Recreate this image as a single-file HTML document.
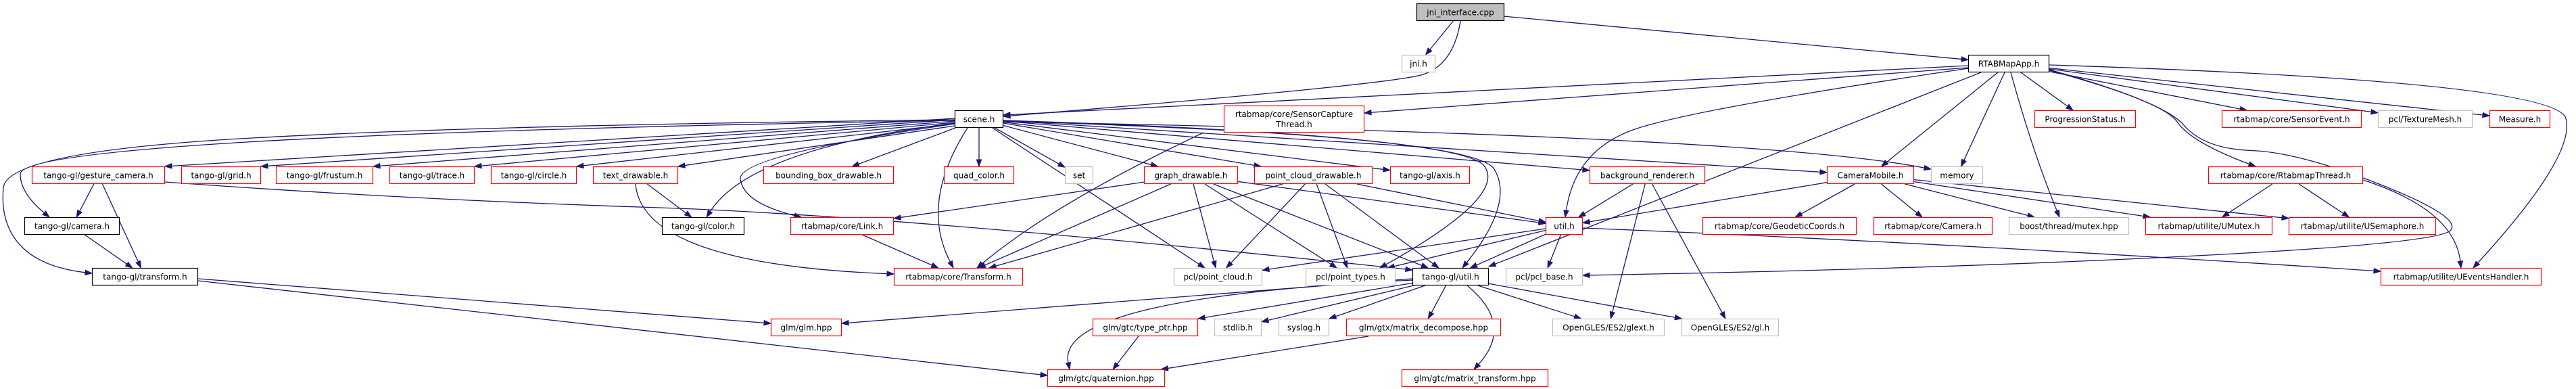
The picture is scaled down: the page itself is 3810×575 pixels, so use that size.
<!DOCTYPE html>
<html><head><meta charset="utf-8">
<style>
html,body{margin:0;padding:0;background:#fff;}
svg{display:block;}
text{font-family:"DejaVu Sans","Liberation Sans",sans-serif;font-size:12px;fill:#000;}
</style></head>
<body>
<svg id="g" xmlns="http://www.w3.org/2000/svg" width="3810" height="575" viewBox="0 0 3810 575">
<rect width="3810" height="575" fill="#fff"/>
<g id="edges" fill="none" stroke="#191970" stroke-width="1.3"></g>
<g id="heads" fill="#191970" stroke="#191970"></g>
<g id="nodes"></g>
</svg>
<script>
var R={A:5,B:81,C:163,D:246,E:321,F:396,G:471,H:546};
var N={};
function n(id,label,x1,x2,row,st,y1,y2){var a=y1!==undefined?y1:R[row];N[id]={l:label,x1:x1,x2:x2,y1:a,y2:y2!==undefined?y2:a+26,s:st};}
n('jni','jni_interface.cpp',2095,2225,'A','k');
n('jnih','jni.h',2073,2123,'B','g');
n('app','RTABMapApp.h',2911,3031,'B','b');
n('scene','scene.h',1412,1484,'C','b');
n('sct',['rtabmap/core/SensorCapture','Thread.h'],1810,2018,'C','r',156,196);
n('prog','ProgressionStatus.h',3009,3159,'C','r');
n('sev','rtabmap/core/SensorEvent.h',3286,3493,'C','r');
n('tmesh','pcl/TextureMesh.h',3517,3657,'C','g');
n('meas','Measure.h',3682,3772,'C','r');
n('gcam','tango-gl/gesture_camera.h',47,244,'D','r');
n('grid','tango-gl/grid.h',268,386,'D','r');
n('frus','tango-gl/frustum.h',408,552,'D','r');
n('trace','tango-gl/trace.h',576,702,'D','r');
n('circ','tango-gl/circle.h',726,853,'D','r');
n('text','text_drawable.h',877,1003,'D','r');
n('bbox','bounding_box_drawable.h',1129,1322,'D','r');
n('quad','quad_color.h',1396,1500,'D','r');
n('set','set',1575,1617,'D','g');
n('graph','graph_drawable.h',1692,1831,'D','r');
n('pcd','point_cloud_drawable.h',1855,2030,'D','r');
n('axis','tango-gl/axis.h',2056,2174,'D','r');
n('bg','background_renderer.h',2351,2522,'D','r');
n('cm','CameraMobile.h',2702,2831,'D','r');
n('mem','memory',2856,2933,'D','g');
n('rthr','rtabmap/core/RtabmapThread.h',3266,3495,'D','r');
n('cam','tango-gl/camera.h',36,177,'E','b');
n('color','tango-gl/color.h',979,1101,'E','b');
n('link','rtabmap/core/Link.h',1169,1322,'E','r');
n('util','util.h',2286,2341,'E','r');
n('geo','rtabmap/core/GeodeticCoords.h',2518,2746,'E','r');
n('ccam','rtabmap/core/Camera.h',2771,2947,'E','r');
n('mutex','boost/thread/mutex.hpp',2971,3149,'E','g');
n('umutex','rtabmap/utilite/UMutex.h',3173,3361,'E','r');
n('usem','rtabmap/utilite/USemaphore.h',3385,3603,'E','r');
n('tr','tango-gl/transform.h',136,293,'F','b');
n('T','rtabmap/core/Transform.h',1322,1513,'F','r');
n('pc','pcl/point_cloud.h',1736,1867,'F','g');
n('pt','pcl/point_types.h',1931,2064,'F','g');
n('tgu','tango-gl/util.h',2089,2202,'F','b');
n('pclb','pcl/pcl_base.h',2227,2341,'F','g');
n('ueh','rtabmap/utilite/UEventsHandler.h',3521,3759,'F','r');
n('glm','glm/glm.hpp',1140,1245,'G','r');
n('tptr','glm/gtc/type_ptr.hpp',1616,1772,'G','r');
n('stdl','stdlib.h',1796,1866,'G','g');
n('sysl','syslog.h',1891,1966,'G','g');
n('mdec','glm/gtx/matrix_decompose.hpp',1991,2220,'G','r');
n('glext','OpenGLES/ES2/glext.h',2296,2462,'G','g');
n('gl','OpenGLES/ES2/gl.h',2487,2631,'G','g');
n('quat','glm/gtc/quaternion.hpp',1549,1723,'H','r');
n('mtr','glm/gtc/matrix_transform.hpp',2073,2290,'H','r');

var E=[
['jni','jnih'],['jni','app'],
['jni','scene',[[2160,31],[2150,95],[2060,125],[1484,172]]],
['app','scene',[[2911,97],[1484,170]]],['app','sct',[[2911,100],[2018,167]]],
['app','util',[[2911,101],[2512,160],[2330,220],[2315,321]]],
['app','tgu',[[2930,107],[2202,394]]],
['app','cm'],['app','mem'],['app','mutex',[[2974,107],[3005,220],[3046,321]]],['app','prog'],['app','sev'],['app','tmesh'],['app','meas'],
['app','rthr',[[3031,104],[3200,150],[3240,210],[3336,246]]],
['app','pclb',[[3031,103],[3200,150],[3260,220],[3400,225],[3640,320],[3610,360],[2850,398],[2341,407]]],
['app','ueh',[[3031,96],[3780,120],[3810,230],[3658,396]]],
['rthr','ueh',[[3495,266],[3630,310],[3640,396]]],
['rthr','umutex'],['rthr','usem'],
['cm','util'],['cm','geo'],['cm','ccam'],['cm','mutex'],['cm','umutex'],['cm','usem'],
['sct','T',[[1780,196],[1560,300],[1445,396]]],
['scene','gcam',[[1412,175],[244,246]]],
['scene','grid',[[1412,177],[386,246]]],
['scene','frus',[[1412,179],[552,246]]],
['scene','trace',[[1412,181],[702,246]]],
['scene','circ',[[1412,183],[853,246]]],
['scene','text',[[1412,186],[1003,246]]],
['scene','cam',[[1412,178],[700,190],[30,230],[30,285],[73,321]]],
['scene','tr',[[1412,177],[700,185],[10,225],[0,330],[60,395],[136,404]]],
['scene','bbox'],['scene','quad'],['scene','set'],['scene','graph'],['scene','pcd'],['scene','axis'],['scene','bg'],['scene','cm'],['scene','mem',[[1484,180],[2600,200],[2856,250]]],
['scene','color',[[1412,182],[1110,220],[1045,321]]],
['scene','link',[[1412,183],[1090,230],[1100,300],[1185,321]]],
['scene','T',[[1431,189],[1360,300],[1410,396]]],
['scene','pc'],
['scene','pt',[[1484,179],[2160,200],[2230,290],[2041,396]]],
['scene','tgu',[[1484,178],[2180,200],[2240,300],[2163,396]]],
['gcam','cam'],['gcam','tr'],['cam','tr'],
['gcam','tgu',[[244,269],[600,295],[1323,318],[2089,399]]],
['text','color'],
['text','T',[[940,272],[950,390],[1322,405]]],
['tr','glm',[[293,412],[1140,478]]],['tr','quat',[[293,415],[1549,555]]],
['link','T'],
['graph','link'],['graph','T'],['graph','pc'],['graph','pt'],['graph','tgu'],['graph','util'],
['pcd','T'],['pcd','pc'],['pcd','pt'],['pcd','tgu'],['pcd','util'],
['bg','util'],['bg','glext'],['bg','gl'],
['util','pc'],['util','pt'],['util','tgu'],['util','pclb'],['util','ueh',[[2341,337],[2900,360],[3521,401]]],
['tgu','glm',[[2089,412],[1245,478]]],['tgu','tptr'],['tgu','stdl'],['tgu','sysl'],['tgu','mdec'],['tgu','glext'],['tgu','gl'],
['tgu','quat',[[2089,414],[1560,440],[1582,546]]],
['tgu','mtr',[[2170,422],[2240,480],[2180,546]]],
['tptr','quat'],['mdec','quat']
];
function ctr(b){return [(b.x1+b.x2)/2,(b.y1+b.y2)/2];}
function clip(b,p){var c=ctr(b),dx=p[0]-c[0],dy=p[1]-c[1];var hw=(b.x2-b.x1)/2,hh=(b.y2-b.y1)/2;
 var t=Math.min(dx?hw/Math.abs(dx):1e9,dy?hh/Math.abs(dy):1e9);return [c[0]+dx*t,c[1]+dy*t];}
var eg=document.getElementById('edges'),hg=document.getElementById('heads'),ng=document.getElementById('nodes');
var NS='http://www.w3.org/2000/svg';
function mk(t,a,p){var e=document.createElementNS(NS,t);for(var k in a)e.setAttribute(k,a[k]);p.appendChild(e);return e;}
function mid(a,b){return [(a[0]+b[0])/2,(a[1]+b[1])/2];}
E.forEach(function(e){var s=N[e[0]],d=N[e[1]],pts;
 if(e[2])pts=e[2].slice();else{pts=[clip(s,ctr(d)),clip(d,ctr(s))];}
 var tip=pts[pts.length-1],pr=pts[pts.length-2];var dx=tip[0]-pr[0],dy=tip[1]-pr[1],L=Math.hypot(dx,dy)||1;dx/=L;dy/=L;
 var base=[tip[0]-dx*10,tip[1]-dy*10];pts[pts.length-1]=base;
 var n=pts.length;var dstr='M'+pts[0][0]+','+pts[0][1];
 if(n==2)dstr+=' L'+base[0]+','+base[1];
 else{for(var i=1;i<=n-2;i++){var end=(i==n-2)?pts[n-1]:mid(pts[i],pts[i+1]);
  dstr+=' Q'+pts[i][0]+','+pts[i][1]+' '+end[0]+','+end[1];}}
 mk('path',{d:dstr},eg);
 var px=-dy,py=dx;
 mk('polygon',{points:tip[0]+','+tip[1]+' '+(base[0]+px*3.6)+','+(base[1]+py*3.6)+' '+(base[0]-px*3.6)+','+(base[1]-py*3.6)},hg);
});
var col={r:'#ff0000',g:'#bfbfbf',b:'#000000',k:'#000000'};
for(var id in N){var b=N[id];
 mk('rect',{x:b.x1+0.5,y:b.y1+0.5,width:b.x2-b.x1-1,height:b.y2-b.y1-1,fill:b.s=='k'?'#bfbfbf':'#fff',stroke:col[b.s],'stroke-width':1.2},ng);
 var cx=(b.x1+b.x2)/2;
 if(Array.isArray(b.l)){var t1=mk('text',{x:cx,y:b.y1+17,'text-anchor':'middle'},ng);t1.textContent=b.l[0];
  var t2=mk('text',{x:cx,y:b.y1+32,'text-anchor':'middle'},ng);t2.textContent=b.l[1];}
 else{var t=mk('text',{x:cx,y:b.y1+17.5,'text-anchor':'middle'},ng);t.textContent=b.l;}
}
</script>
</body></html>
